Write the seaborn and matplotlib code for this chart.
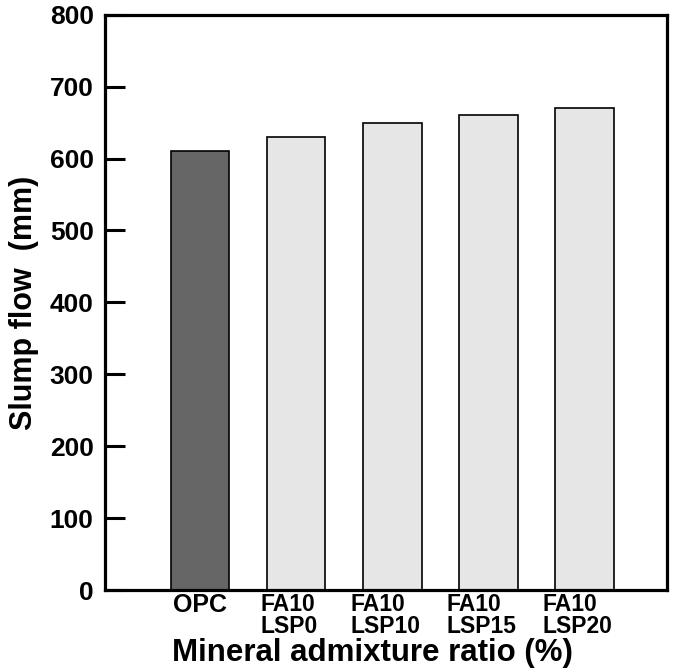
import matplotlib
matplotlib.use("Agg")
import matplotlib.pyplot as plt
import matplotlib.transforms as mtransforms
import seaborn as sns
import pandas as pd

categories = ["OPC", "FA10\nLSP0", "FA10\nLSP10", "FA10\nLSP15", "FA10\nLSP20"]
slump_flow = [610, 630, 650, 660, 670]
bar_colors = ["#666666", "#e6e6e6", "#e6e6e6", "#e6e6e6", "#e6e6e6"]

sns.set_style("white")
plt.rcParams['font.family'] = ['Liberation Sans', 'DejaVu Sans']
plt.rcParams['font.weight'] = 'bold'
plt.rcParams['text.color'] = 'black'
plt.rcParams['axes.labelcolor'] = 'black'
plt.rcParams['xtick.color'] = 'black'
plt.rcParams['ytick.color'] = 'black'

df = pd.DataFrame({"cat": categories, "val": slump_flow})

fig = plt.figure(figsize=(6.85, 6.72), dpi=100)
ax = fig.add_axes([0.153, 0.122, 0.821, 0.856])
sns.barplot(data=df, x="cat", y="val", hue="cat", palette=bar_colors, legend=False,
            width=0.61, edgecolor="black", linewidth=1.2, saturation=1, ax=ax)

ax.set_xlim(-0.99, 4.86)
ax.set_ylim(0, 800)
ax.set_yticks(range(0, 801, 100))
ax.tick_params(axis='y', left=True, direction='in', length=14.5, width=2.2,
               labelsize=19, pad=8, colors='black')
ax.tick_params(axis='x', bottom=False, length=0, labelsize=16.5, pad=2, colors='black')
shift = mtransforms.ScaledTranslation(-7 / 100, 0, fig.dpi_scale_trans)
for i, lab in enumerate(ax.get_xticklabels()):
    lab.set_fontweight('bold')
    lab.set_multialignment('left')
    lab.set_linespacing(0.95)
    if i > 0:
        lab.set_transform(lab.get_transform() + shift)
ax.get_xticklabels()[0].set_fontsize(18)
for lab in ax.get_yticklabels():
    lab.set_fontweight('bold')
for s in ax.spines.values():
    s.set_visible(True)
    s.set_linewidth(2.3)
    s.set_color('black')

ax.set_xlabel("Mineral admixture ratio (%)", fontsize=22.5, fontweight='bold')
ax.xaxis.set_label_coords(0.475, -0.083)
ax.set_ylabel("Slump flow  (mm)", fontsize=22, fontweight='bold', labelpad=8)

fig.savefig("out.png", dpi=100)
